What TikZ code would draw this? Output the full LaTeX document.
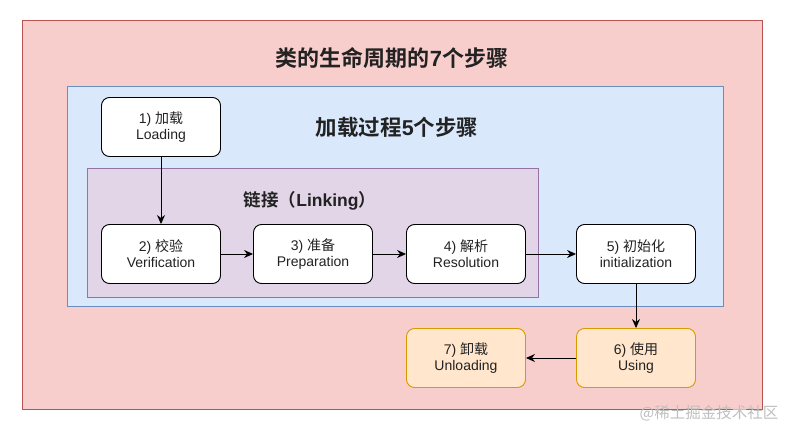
\documentclass[tikz,border=0pt]{standalone}
\usepackage{fontspec}
\setmainfont{Liberation Sans}
\newfontfamily\cjk{Noto Sans CJK SC}[BoldFont={Noto Sans CJK SC Bold}]
\usetikzlibrary{arrows.meta}
\definecolor{redfill}{HTML}{F8CECC}
\definecolor{redline}{HTML}{B85450}
\definecolor{bluefill}{HTML}{DAE8FC}
\definecolor{blueline}{HTML}{6C8EBF}
\definecolor{purpfill}{HTML}{E1D5E7}
\definecolor{purpline}{HTML}{9673A6}
\definecolor{orfill}{HTML}{FFE6CC}
\definecolor{orline}{HTML}{D79B00}
\definecolor{txt}{HTML}{222222}
\tikzset{
  stepbox/.style={draw=black, fill=white, rounded corners=8pt, line width=0.9pt,
    minimum width=119pt, minimum height=59pt, inner sep=0pt, align=center,
    text=txt, font=\fontsize{14}{16}\selectfont},
  orbox/.style={stepbox, draw=orline, fill=orfill},
  conn/.style={line width=0.9pt, -{Stealth[length=9pt,width=8pt]}},
  ctitle/.style={inner sep=0pt, text=txt}
}
\begin{document}
\begin{tikzpicture}[x=1pt,y=-1pt]
\useasboundingbox (0,0) rectangle (787,430);
\fill[white] (0,0) rectangle (787,430);
\draw[fill=redfill, draw=redline, line width=0.8pt] (22,20) rectangle (762,409);
\draw[fill=bluefill, draw=blueline, line width=0.8pt] (67,86) rectangle (723,306);
\draw[fill=purpfill, draw=purpline, line width=0.8pt] (87,168) rectangle (538,297);

\node[ctitle, font=\fontsize{22}{25}\selectfont\bfseries] (t1) at (392,58) {{\cjk 类的生命周期的}7{\cjk 个步骤}};
\node[ctitle, font=\fontsize{21.5}{24}\selectfont\bfseries] (t2) at (397,127) {{\cjk 加载过程}5{\cjk 个步骤}};
\node[ctitle, font=\fontsize{17.5}{20}\selectfont\bfseries] (t3) at (310,201) {{\cjk 链接（}Linking{\cjk ）}};

\node[stepbox] (load) at (161,127) {1) {\cjk 加载}\\Loading};
\node[stepbox] (ver) at (161,254) {2) {\cjk 校验}\\Verification};
\node[stepbox] (prep) at (313,254) {3) {\cjk 准备}\\Preparation};
\node[stepbox] (res) at (466,254) {4) {\cjk 解析}\\Resolution};
\node[stepbox] (init) at (636,254) {5) {\cjk 初始化}\\initialization};
\node[orbox] (use) at (636,358) {6) {\cjk 使用}\\Using};
\node[orbox] (unl) at (466,358) {7) {\cjk 卸载}\\Unloading};

\draw[conn] (load) -- (ver);
\draw[conn] (ver) -- (prep);
\draw[conn] (prep) -- (res);
\draw[conn] (res) -- (init);
\draw[conn] (init) -- (use);
\draw[conn] (use) -- (unl);

\node[inner sep=0pt, text=black!25, font=\fontsize{15.5}{17}\selectfont\cjk] (wm) at (709,413) {@稀土掘金技术社区};
\end{tikzpicture}
\end{document}
